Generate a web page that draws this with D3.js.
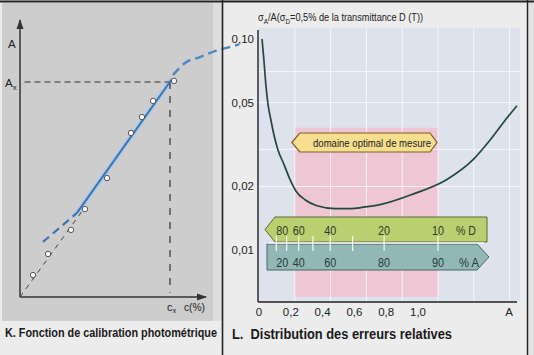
<!DOCTYPE html>
<html><head><meta charset="utf-8">
<script src="https://cdn.jsdelivr.net/npm/d3@7"></script>
<style>
body{margin:0;background:#ebebeb}
svg{display:block}
text{font-family:"Liberation Sans Narrow","Arial Narrow","Liberation Sans",Arial,sans-serif;fill:#222}
</style>
</head><body><svg id="c" width="534" height="355"></svg>
<script>
// ---------- Panel K : calibration data (c relative to cx, A relative to Ax) ----------
const calibC = [0.087, 0.187, 0.34, 0.433, 0.58, 0.74, 0.813, 0.887, 1.027];
const calibA = [0.102, 0.2, 0.312, 0.409, 0.553, 0.763, 0.837, 0.912, 1.005];
const fitSolidC = [0.38, 1.013];
const fitSolidA = [0.391, 1.014];
const fitLowC = [0.153, 0.38];
const fitLowA = [0.256, 0.391];
const fitHighC = [1.02, 1.1, 1.2, 1.3, 1.4, 1.46];
const fitHighA = [1.033, 1.088, 1.116, 1.144, 1.163, 1.175];
const originC = [0, 0.42];
const originA = [0, 0.405];
const sampleC = 1, sampleA = 1;

// ---------- Panel L : relative error curve ----------
const errA = [0.017,0.028,0.039,0.05,0.067,0.084,0.106,0.14,0.173,0.207,0.257,0.324,0.425,0.508,0.592,0.676,0.86,1.05,1.196,1.291,1.374,1.441];
const errV = [0.1,0.0782,0.0598,0.0493,0.0411,0.035,0.0298,0.0254,0.0216,0.019,0.0173,0.0162,0.0157,0.0157,0.016,0.0164,0.0184,0.0216,0.0268,0.0332,0.0411,0.0483];
const yTickVals = [0.10, 0.05, 0.02, 0.01];
const yTickLabels = ["0,10", "0,05", "0,02", "0,01"];
const xTickVals = [0, 0.2, 0.4, 0.6, 0.8, 1.0];
const xTickLabels = ["0", "0,2", "0,4", "0,6", "0,8", "1,0"];
const gridA = [0.2, 0.4, 0.6, 0.8, 1.0, 1.2, 1.4];
const gridV = [0.07, 0.05, 0.03, 0.02];
const transTicks = [80, 70, 60, 50, 40, 30, 20, 10];
const transLabels = [80, 60, 40, 20, 10];
const absorbLabels = [20, 40, 60, 80, 90];
const optimalRange = [0.2, 1.0];
const optimalTopV = 0.038;

const svg = d3.select("#c");

// backgrounds
svg.append("rect").attr("x",0).attr("y",0).attr("width",534).attr("height",355).attr("fill","#ececec");
svg.append("rect").attr("x",2).attr("y",3).attr("width",211).attr("height",318).attr("fill","#cdcdcd");
svg.append("rect").attr("x",213).attr("y",3).attr("width",9).attr("height",318).attr("fill","#dedede");
svg.append("rect").attr("x",528).attr("y",0).attr("width",6).attr("height",355).attr("fill","#e2e2e2");

// ================= Panel K =================
const cS = d3.scaleLinear([0, 1], [20, 170]);
const aS = d3.scaleLinear([0, 1], [297, 82]);
const kLine = d3.line().x(d => cS(d[0])).y(d => aS(d[1]));
const zip = (a, b) => a.map((v, i) => [v, b[i]]);

const defs = svg.append("defs");
defs.append("marker").attr("id","arr").attr("viewBox","0 0 10 10").attr("refX",9).attr("refY",5)
  .attr("markerWidth",7).attr("markerHeight",7).attr("orient","auto")
  .append("path").attr("d","M0,1.5L10,5L0,8.5Z").attr("fill","#333");

// halo
svg.append("path").attr("d", kLine(zip(fitSolidC, fitSolidA)))
  .attr("fill","none").attr("stroke","#a9c9e6").attr("stroke-width",5).attr("opacity",0.85);
// dashed guides to sample
svg.append("path").attr("d", kLine([[0.03, sampleA],[sampleC, sampleA]])).attr("fill","none")
  .attr("stroke","#333").attr("stroke-width",1.2).attr("stroke-dasharray","6,4");
svg.append("path").attr("d", kLine([[sampleC, sampleA],[sampleC, 0.02]])).attr("fill","none")
  .attr("stroke","#333").attr("stroke-width",1.2).attr("stroke-dasharray","7,7");
// origin extrapolation
svg.append("path").attr("d", kLine(zip(originC, originA))).attr("fill","none")
  .attr("stroke","#444").attr("stroke-width",1).attr("stroke-dasharray","5,5");
// blue fit
svg.append("path").attr("d", kLine(zip(fitSolidC, fitSolidA))).attr("fill","none")
  .attr("stroke","#3a74b8").attr("stroke-width",2);
svg.append("path").attr("d", kLine(zip(fitLowC, fitLowA))).attr("fill","none")
  .attr("stroke","#3a74b8").attr("stroke-width",2.2).attr("stroke-dasharray","8,5");
svg.append("path").attr("d", d3.line().x(d => cS(d[0])).y(d => aS(d[1])).curve(d3.curveMonotoneX)(zip(fitHighC, fitHighA)))
  .attr("fill","none").attr("stroke","#4d86c4").attr("stroke-width",2.4).attr("stroke-dasharray","9,5");
// axes
svg.append("line").attr("x1",20).attr("y1",297).attr("x2",20).attr("y2",20)
  .attr("stroke","#333").attr("stroke-width",1.5).attr("marker-end","url(#arr)");
svg.append("line").attr("x1",20).attr("y1",297).attr("x2",206).attr("y2",297)
  .attr("stroke","#333").attr("stroke-width",1.5).attr("marker-end","url(#arr)");
// points
svg.append("g").selectAll("circle").data(zip(calibC, calibA)).join("circle")
  .attr("cx", d => cS(d[0])).attr("cy", d => aS(d[1])).attr("r", 2.7)
  .attr("fill","#fff").attr("stroke","#555").attr("stroke-width",1);
// labels
svg.append("text").attr("x",8).attr("y",48).attr("font-size",11.5).text("A");
const ax = svg.append("text").attr("x",5).attr("y",aS(sampleA)+5).attr("font-size",11.5);
ax.append("tspan").text("A");
ax.append("tspan").attr("font-size",8).attr("dy",3).text("x");
const cx = svg.append("text").attr("x",cS(sampleC)-3).attr("y",311).attr("font-size",11);
cx.append("tspan").text("c");
cx.append("tspan").attr("font-size",7.5).attr("dy",2).text("x");
svg.append("text").attr("x",184).attr("y",311).attr("font-size",11).attr("textLength",21).attr("lengthAdjust","spacingAndGlyphs").text("c(%)");
svg.append("text").attr("x",5).attr("y",337).attr("font-size",13).attr("font-weight","bold")
  .attr("textLength",212).attr("lengthAdjust","spacingAndGlyphs").style("fill","#1a1a1a")
  .text("K. Fonction de calibration photométrique");

// ================= Panel L =================
const x = d3.scaleLinear([0, 1], [259, 438]);
const xLab = d3.scaleLinear([0, 1], [259, 418]);
const y = d3.scaleLog([0.01, 0.1], [250, 39]);
const plotL = 258, plotR = 520, plotT = 28, plotB = 302;

svg.append("rect").attr("x",plotL).attr("y",plotT).attr("width",plotR-plotL).attr("height",plotB-plotT).attr("fill","#dde2ec");
svg.append("rect").attr("x",x(optimalRange[0])).attr("y",y(optimalTopV))
  .attr("width",x(optimalRange[1])-x(optimalRange[0])).attr("height",297-y(optimalTopV)).attr("fill","#efc6d3");
// grid
svg.append("g").selectAll("line").data(gridA).join("line")
  .attr("x1", d => x(d)).attr("x2", d => x(d)).attr("y1", plotT).attr("y2", plotB)
  .attr("stroke","#fff").attr("stroke-width",1).attr("opacity",0.75);
svg.append("g").selectAll("line").data(gridV).join("line")
  .attr("x1", plotL).attr("x2", plotR).attr("y1", d => y(d)).attr("y2", d => y(d))
  .attr("stroke","#fff").attr("stroke-width",1).attr("opacity",0.75);

// curve
svg.append("path").attr("d", d3.line().x(d => x(d[0])).y(d => y(d[1])).curve(d3.curveMonotoneX)(zip(errA, errV)))
  .attr("fill","none").attr("stroke","#23483c").attr("stroke-width",1.7);

// optimal domain tag
const tagL = x(optimalRange[0]) - 3, tagR = x(optimalRange[1]) - 1, tagT = 133, tagB = 152, tm = (tagT+tagB)/2;
svg.append("path").attr("d",`M${tagL},${tm}L${tagL+8},${tagT}L${tagR-7},${tagT}L${tagR},${tm}L${tagR-7},${tagB}L${tagL+8},${tagB}Z`)
  .attr("fill","#f5de8e").attr("stroke","#7d5f28").attr("stroke-width",1.2);
svg.append("text").attr("x",313).attr("y",tm+4).attr("font-size",11.5)
  .attr("textLength",118).attr("lengthAdjust","spacingAndGlyphs")
  .text("domaine optimal de mesure");

// %D arrow (pointing left), %A arrow (pointing right)
const gT = 217, gB = 242, tT = 244, tB = 270;
svg.append("path").attr("d",`M265,${(gT+gB)/2}L275,${gT}L487,${gT}L487,${gB}L275,${gB}Z`)
  .attr("fill","#bacf70").attr("stroke","#5b6a33").attr("stroke-width",1);
svg.append("path").attr("d",`M267,${tT}L477,${tT}L489,${(tT+tB)/2}L477,${tB}L267,${tB}Z`)
  .attr("fill","#92b8b6").attr("stroke","#4a6666").attr("stroke-width",1);
svg.append("line").attr("x1",268).attr("x2",484).attr("y1",243).attr("y2",243).attr("stroke","#f4f4f4").attr("stroke-width",1.5);
const tPos = t => x(-Math.log10(t / 100));
svg.append("g").selectAll("line").data(transTicks).join("line")
  .attr("x1", tPos).attr("x2", tPos).attr("y1", 236).attr("y2", 251)
  .attr("stroke","#f4f4f4").attr("stroke-width",1.2);
svg.append("g").selectAll("text").data(transLabels).join("text")
  .attr("x", d => tPos(d) + (d === 80 ? 6 : 0)).attr("y", 235).attr("text-anchor","middle").attr("font-size",12)
  .attr("textLength",12).attr("lengthAdjust","spacingAndGlyphs")
  .style("fill","#2e3b26").text(d => d);
svg.append("text").attr("x", 456).attr("y", 235).attr("font-size",12).attr("textLength",20).attr("lengthAdjust","spacingAndGlyphs")
  .style("fill","#2e3b26").text("% D");
svg.append("g").selectAll("text").data(absorbLabels).join("text")
  .attr("x", d => tPos(100 - d) + (d === 20 ? 6 : 0)).attr("y", 267).attr("text-anchor","middle").attr("font-size",12)
  .attr("textLength",12).attr("lengthAdjust","spacingAndGlyphs")
  .style("fill","#27393a").text(d => d);
svg.append("text").attr("x", 459).attr("y", 267).attr("font-size",12).attr("textLength",20).attr("lengthAdjust","spacingAndGlyphs")
  .style("fill","#27393a").text("% A");

// axes
svg.append("line").attr("x1",plotL).attr("x2",plotL).attr("y1",30).attr("y2",plotB).attr("stroke","#222").attr("stroke-width",1.4);
svg.append("line").attr("x1",plotL).attr("x2",517).attr("y1",plotB).attr("y2",plotB).attr("stroke","#222").attr("stroke-width",1.6);
svg.append("g").selectAll("text").data(yTickVals).join("text")
  .attr("x",254).attr("y", d => y(d) + 4).attr("text-anchor","end").attr("font-size",11.5)
  .text((d, i) => yTickLabels[i]);
svg.append("g").selectAll("text").data(xTickVals).join("text")
  .attr("x", d => xLab(d)).attr("y", 316).attr("text-anchor","middle").attr("font-size",11.5)
  .text((d, i) => xTickLabels[i]);
svg.append("text").attr("x",509).attr("y",316).attr("text-anchor","middle").attr("font-size",11.5).text("A");

// title (condensed)
const tt = svg.append("text").attr("transform","translate(258,21) scale(0.8,1)").attr("font-size",11.5);
tt.append("tspan").text("σ");
tt.append("tspan").attr("font-size",8).attr("dy",3).text("A");
tt.append("tspan").attr("dy",-3).text("/A(σ");
tt.append("tspan").attr("font-size",8).attr("dy",3).text("D");
tt.append("tspan").attr("dy",-3).text("=0,5% de la transmittance D (T))");

// caption L (single text element)
svg.append("text").attr("x",232).attr("y",339).attr("font-size",14).attr("font-weight","bold").style("fill","#1a1a1a")
  .style("white-space","pre")
  .attr("textLength",220).attr("lengthAdjust","spacingAndGlyphs").text("L.  Distribution des erreurs relatives");

// frame lines
svg.append("line").attr("x1",0).attr("x2",534).attr("y1",1.5).attr("y2",1.5).attr("stroke","#222").attr("stroke-width",2);
svg.append("line").attr("x1",222.5).attr("x2",222.5).attr("y1",0).attr("y2",355).attr("stroke","#222").attr("stroke-width",1.6);
svg.append("line").attr("x1",527.5).attr("x2",527.5).attr("y1",0).attr("y2",355).attr("stroke","#222").attr("stroke-width",1.4);
</script>
</body></html>
